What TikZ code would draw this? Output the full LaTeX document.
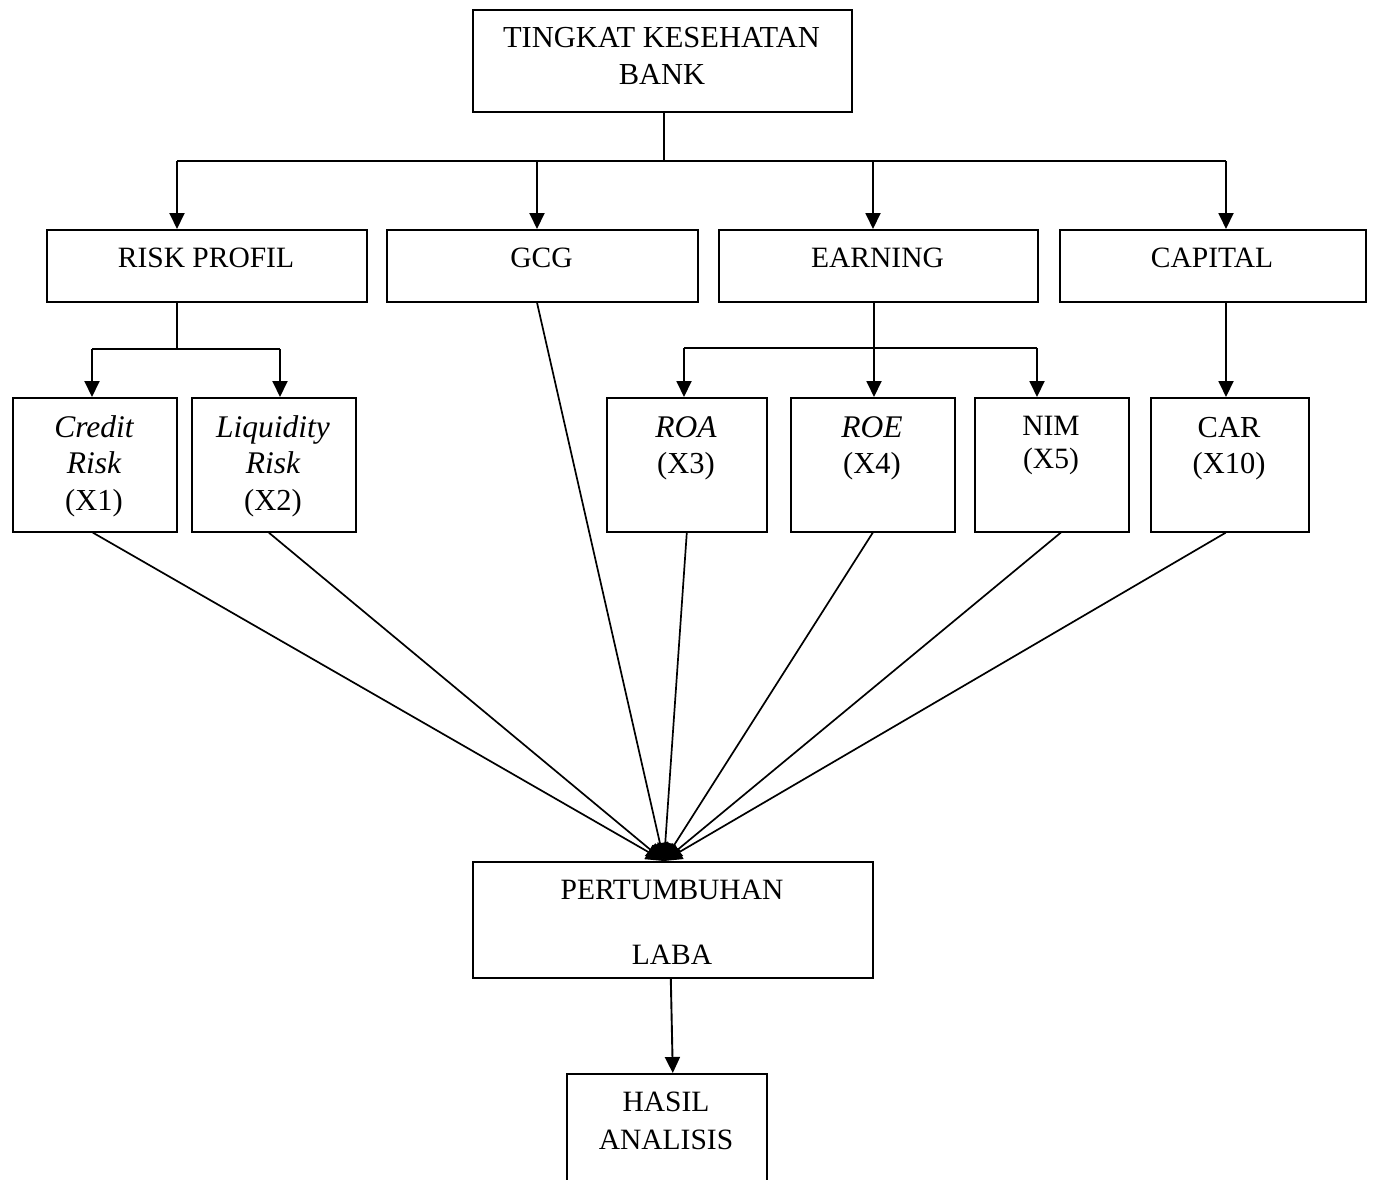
\documentclass[tikz,border=0pt]{standalone}
\usepackage{fontspec}
\setmainfont{Liberation Serif}
\usetikzlibrary{arrows.meta}
\begin{document}
\begin{tikzpicture}[x=1pt,y=-1pt,
  box/.style={draw, line width=1.6pt, inner sep=0pt, anchor=north west},
  txt/.style={font=\fontsize{29.5}{36}\selectfont, inner sep=0pt, anchor=base},
  txtb/.style={font=\fontsize{30.5}{36}\selectfont, inner sep=0pt, anchor=base},
  itx/.style={font=\fontsize{31.5}{36}\selectfont\itshape, inner sep=0pt, anchor=base},
  conn/.style={line width=1.5pt},
  arr/.style={line width=1.9pt, -{Triangle[length=16pt,width=15pt]}},
  fan/.style={line width=1.7pt, -{Triangle[length=18pt,width=16pt]}}
]
\useasboundingbox (0,0) rectangle (1376,1179);
\clip (0,0) rectangle (1376,1179);

% boxes
\node[box,minimum width=379pt,minimum height=102pt] (top) at (472,9) {};
\node[box,minimum width=320pt,minimum height=72pt] (risk) at (46,229) {};
\node[box,minimum width=311pt,minimum height=72pt] (gcg) at (386,229) {};
\node[box,minimum width=319pt,minimum height=72pt] (earn) at (718,229) {};
\node[box,minimum width=306pt,minimum height=72pt] (cap) at (1059,229) {};
\node[box,minimum width=164pt,minimum height=134pt] (credit) at (12,397) {};
\node[box,minimum width=164pt,minimum height=134pt] (liq) at (191,397) {};
\node[box,minimum width=160pt,minimum height=134pt] (roa) at (606,397) {};
\node[box,minimum width=164pt,minimum height=134pt] (roe) at (790,397) {};
\node[box,minimum width=154pt,minimum height=134pt] (nim) at (974,397) {};
\node[box,minimum width=158pt,minimum height=134pt] (car) at (1150,397) {};
\node[box,minimum width=400pt,minimum height=116pt] (pert) at (472,861) {};
\node[box,minimum width=200pt,minimum height=150pt] (hasil) at (566,1073) {};

% texts
\node[txtb] (t1a) at (661.5,47) {TINGKAT KESEHATAN};
\node[txtb] (t1b) at (662,84) {BANK};
\node[txt] (t2) at (206,267) {RISK PROFIL};
\node[txt] (t3) at (541.5,267) {GCG};
\node[txt] (t4) at (877.5,267) {EARNING};
\node[txt] (t5) at (1212,267) {CAPITAL};
\node[itx] (t6a) at (94,437) {Credit};
\node[itx] (t6b) at (94,473) {Risk};
\node[txtb] (t6c) at (94,510) {(X1)};
\node[itx] (t7a) at (273,437) {Liquidity};
\node[itx] (t7b) at (273,473) {Risk};
\node[txtb] (t7c) at (273,510) {(X2)};
\node[itx] (t8a) at (686,437) {ROA};
\node[txtb] (t8b) at (686,473) {(X3)};
\node[itx] (t9a) at (872,437) {ROE};
\node[txtb] (t9b) at (872,473) {(X4)};
\node[txt] (t10a) at (1051,435) {NIM};
\node[txt] (t10b) at (1051,468) {(X5)};
\node[txtb] (t11a) at (1229,437) {CAR};
\node[txtb] (t11b) at (1229,473) {(X10)};
\node[txt] (t12a) at (672,899) {PERTUMBUHAN};
\node[txt] (t12b) at (672,964) {LABA};
\node[txt] (t13a) at (666,1111) {HASIL};
\node[txt] (t13b) at (666,1149) {ANALISIS};

% top distribution
\coordinate (trunk) at (664,161);
\coordinate (bL) at (177,161);
\coordinate (b2) at (537,161);
\coordinate (b3) at (873,161);
\coordinate (bR) at (1226,161);
\draw[conn] (top.south -| trunk) -- (trunk);
\draw[conn] (bL) -- (bR);
\draw[arr] (bL) -- (bL |- risk.north);
\draw[arr] (b2) -- (b2 |- gcg.north);
\draw[arr] (b3) -- (b3 |- earn.north);
\draw[arr] (bR) -- (bR |- cap.north);

% risk profil branch
\coordinate (rj) at (177,349);
\coordinate (rL) at (92,349);
\coordinate (rR) at (280,349);
\draw[conn] (rj |- risk.south) -- (rj);
\draw[conn] (rL) -- (rR);
\draw[arr] (rL) -- (rL |- credit.north);
\draw[arr] (rR) -- (rR |- liq.north);

% earning branch
\coordinate (ej) at (874,348);
\coordinate (eL) at (684,348);
\coordinate (eR) at (1037,348);
\draw[arr] (ej |- earn.south) -- (ej |- roe.north);
\draw[conn] (eL) -- (eR);
\draw[arr] (eL) -- (eL |- roa.north);
\draw[arr] (eR) -- (eR |- nim.north);

% capital branch
\draw[arr] (bR |- cap.south) -- (bR |- car.north);

% fan into pertumbuhan laba
\coordinate (conv) at (664,861);
\draw[fan] ([xshift=-2pt]credit.south) -- (conv);
\draw[fan] ([xshift=-5pt]liq.south) -- (conv);
\draw[fan] (b2 |- gcg.south) -- (conv);
\draw[fan] (roa.south) -- (conv);
\draw[fan] (roe.south) -- (conv);
\draw[fan] ([xshift=9pt]nim.south) -- (conv);
\draw[fan] ([xshift=-4pt]car.south) -- (conv);

% to hasil
\draw[arr] ([xshift=-2pt]pert.south) -- ([xshift=6pt]hasil.north);
\end{tikzpicture}
\end{document}
